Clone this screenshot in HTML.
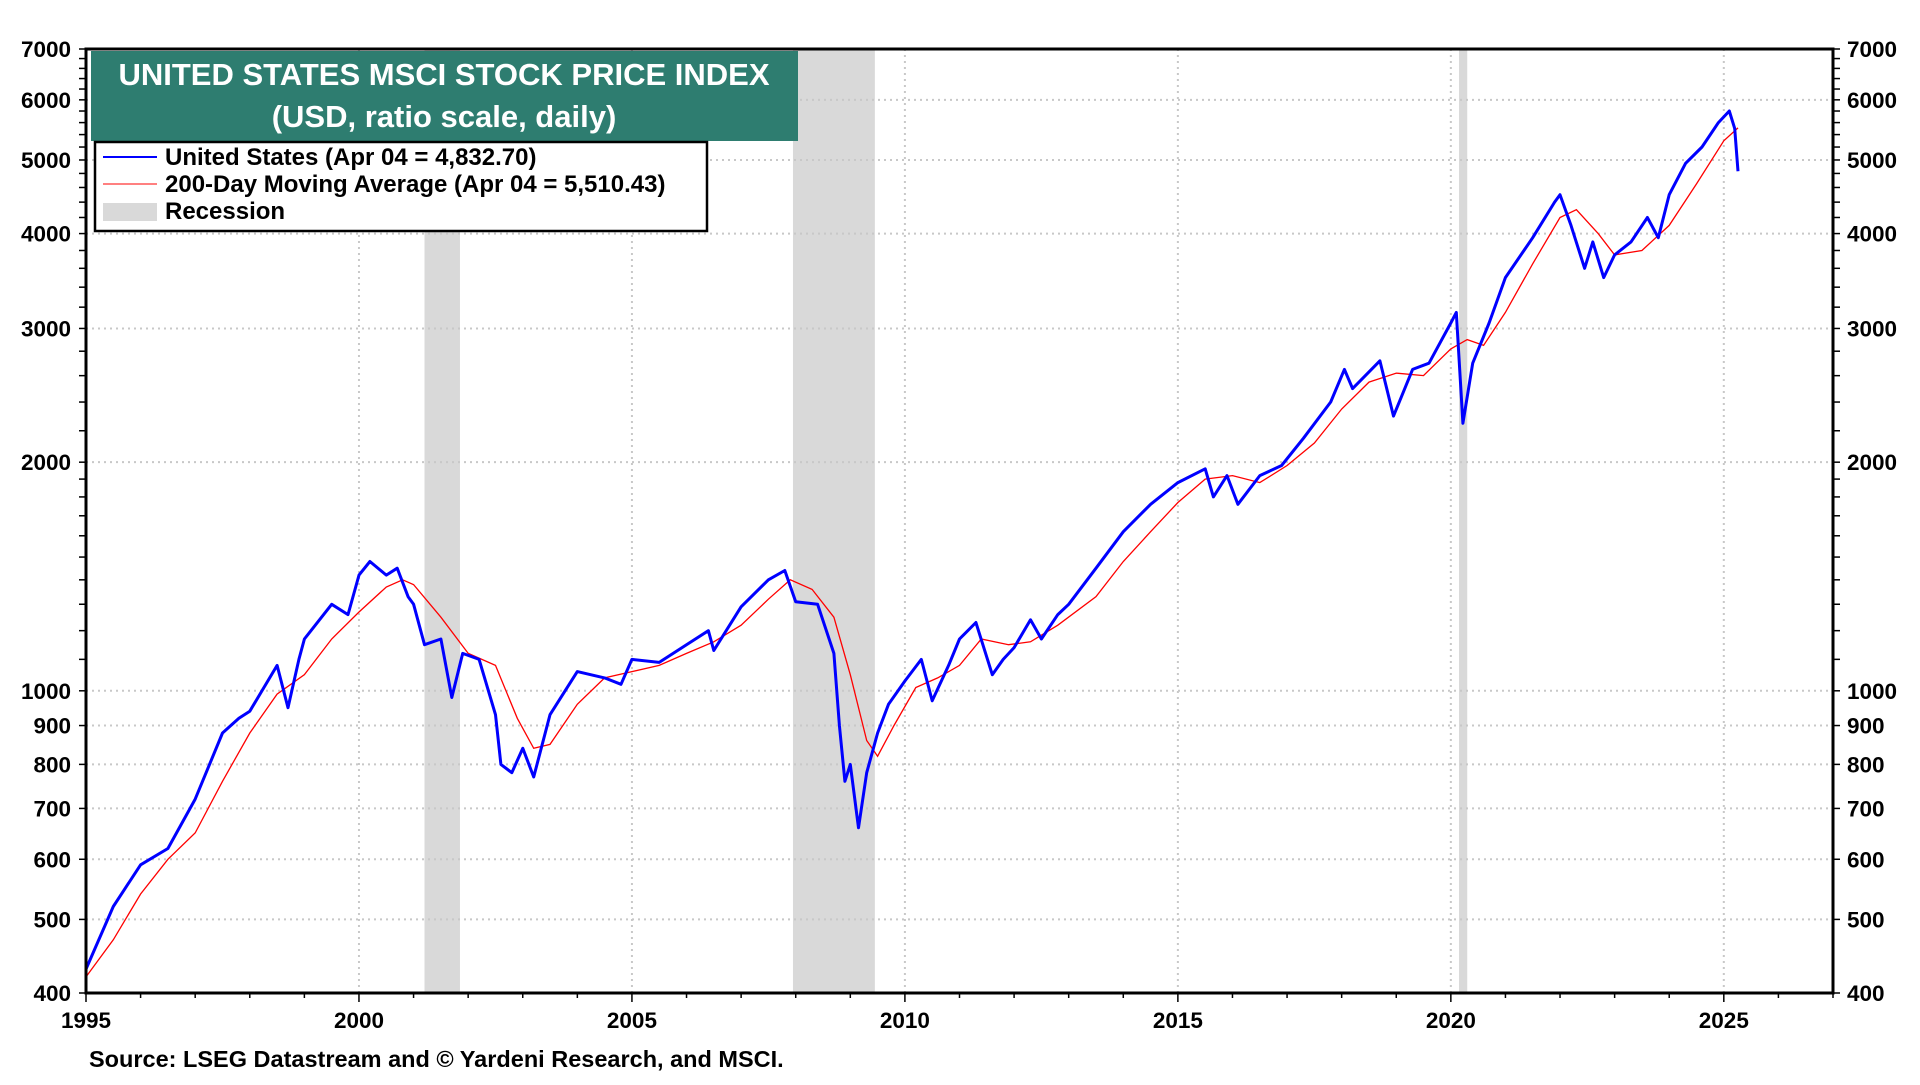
<!DOCTYPE html>
<html><head><meta charset="utf-8"><style>
html,body{margin:0;padding:0;background:#fff;}
body{width:1920px;height:1080px;overflow:hidden;font-family:"Liberation Sans",sans-serif;}
svg text{font-family:"Liberation Sans",sans-serif;font-weight:bold;}
</style></head><body>
<svg id="chart" width="1920" height="1080" xmlns="http://www.w3.org/2000/svg">
<g id="rec"></g>
<g id="grid"></g>
<g id="series"></g>
<g id="axes"></g>
<rect x="91" y="51" width="707" height="90" fill="#2e7d70"/>
<text x="444" y="85" fill="#fff" font-size="31" text-anchor="middle">UNITED STATES MSCI STOCK PRICE INDEX</text>
<text x="444" y="127" fill="#fff" font-size="31" text-anchor="middle">(USD, ratio scale, daily)</text>
<g>
<rect x="95" y="142" width="612" height="89" fill="#fff" stroke="#000" stroke-width="2.5"/>
<line x1="103" y1="157" x2="157" y2="157" stroke="#0000ff" stroke-width="2"/>
<text x="165" y="165" font-size="24">United States (Apr 04 = 4,832.70)</text>
<line x1="103" y1="184" x2="157" y2="184" stroke="#ff8080" stroke-width="2"/>
<text x="165" y="192" font-size="24">200-Day Moving Average (Apr 04 = 5,510.43)</text>
<rect x="103" y="203" width="54" height="18" fill="#d9d9d9"/>
<text x="165" y="219" font-size="24">Recession</text>
</g>
<text x="89" y="1067" font-size="23.5">Source: LSEG Datastream and © Yardeni Research, and MSCI.</text>
</svg>
<script>
const usT=[1995.0,1995.5,1996.0,1996.5,1997.0,1997.5,1997.8,1998.0,1998.5,1998.7,1998.9,1999.0,1999.5,1999.8,2000.0,2000.2,2000.5,2000.7,2000.9,2001.0,2001.2,2001.5,2001.7,2001.9,2002.2,2002.5,2002.6,2002.8,2003.0,2003.2,2003.5,2004.0,2004.5,2004.8,2005.0,2005.5,2006.0,2006.4,2006.5,2007.0,2007.5,2007.8,2008.0,2008.4,2008.7,2008.8,2008.9,2009.0,2009.15,2009.3,2009.5,2009.7,2010.0,2010.3,2010.5,2010.8,2011.0,2011.3,2011.6,2011.8,2012.0,2012.3,2012.5,2012.8,2013.0,2013.5,2014.0,2014.5,2015.0,2015.5,2015.65,2015.9,2016.1,2016.5,2016.9,2017.3,2017.8,2018.05,2018.2,2018.7,2018.95,2019.3,2019.6,2020.0,2020.1,2020.22,2020.4,2020.7,2021.0,2021.5,2021.9,2022.0,2022.2,2022.45,2022.6,2022.8,2023.0,2023.3,2023.6,2023.8,2024.0,2024.3,2024.6,2024.9,2025.1,2025.2,2025.26];
const usV=[430,520,590,620,720,880,920,940,1080,950,1100,1170,1300,1260,1420,1480,1420,1450,1330,1300,1150,1170,980,1120,1100,930,800,780,840,770,930,1060,1040,1020,1100,1090,1150,1200,1130,1290,1400,1440,1310,1300,1120,900,760,800,660,780,880,960,1030,1100,970,1080,1170,1230,1050,1100,1140,1240,1170,1260,1300,1450,1620,1760,1880,1960,1800,1920,1760,1920,1980,2150,2400,2650,2500,2720,2300,2650,2700,3050,3150,2250,2700,3050,3500,3950,4400,4500,4100,3600,3900,3500,3750,3900,4200,3950,4500,4950,5200,5600,5800,5500,4833];
const maT=[1995.0,1995.5,1996.0,1996.5,1997.0,1997.5,1998.0,1998.5,1999.0,1999.5,2000.0,2000.5,2000.8,2001.0,2001.5,2002.0,2002.5,2002.9,2003.2,2003.5,2004.0,2004.5,2005.0,2005.5,2006.0,2006.5,2007.0,2007.5,2007.9,2008.3,2008.7,2009.0,2009.3,2009.5,2009.8,2010.2,2010.6,2011.0,2011.4,2011.9,2012.3,2012.8,2013.5,2014.0,2014.5,2015.0,2015.5,2016.0,2016.5,2017.0,2017.5,2018.0,2018.5,2019.0,2019.5,2020.0,2020.3,2020.6,2021.0,2021.5,2022.0,2022.3,2022.7,2023.0,2023.5,2024.0,2024.5,2025.0,2025.26];
const maV=[420,470,540,600,650,760,880,990,1050,1170,1270,1370,1400,1380,1250,1120,1080,920,840,850,960,1040,1060,1080,1120,1160,1220,1320,1400,1360,1250,1050,860,820,900,1010,1040,1080,1170,1150,1160,1220,1330,1480,1620,1770,1900,1920,1880,1980,2120,2350,2550,2620,2600,2820,2900,2850,3150,3650,4200,4300,4000,3750,3800,4100,4650,5300,5510];
const recStart=[2001.2,2007.95,2020.15];
const recEnd=[2001.85,2009.45,2020.3];
const yLabels=[400,500,600,700,800,900,1000,2000,3000,4000,5000,6000,7000];
const xLabels=[1995,2000,2005,2010,2015,2020,2025];
const L=86,R=1833,T=49,B=993,X0=1995,X1=2027,Ymin=400,Ymax=7000;
const NS='http://www.w3.org/2000/svg';
const xs=t=>L+(t-X0)/(X1-X0)*(R-L);
const ys=v=>B-Math.log(v/Ymin)/Math.log(Ymax/Ymin)*(B-T);
function mk(tag,attrs,parent){const e=document.createElementNS(NS,tag);for(const k in attrs)e.setAttribute(k,attrs[k]);document.getElementById(parent).appendChild(e);return e;}
recStart.forEach((s,i)=>{const r=mk('rect',{x:xs(s),y:T,width:xs(recEnd[i])-xs(s),height:B-T,fill:'#d9d9d9'},'rec');

});
yLabels.forEach(v=>{const l=mk('line',{x1:L,x2:R,y1:ys(v),y2:ys(v),stroke:'#c8c8c8','stroke-width':2,'stroke-dasharray':'2,4'},'grid');


const a=mk('text',{x:L-15,y:ys(v)+8,'font-size':22.5,'text-anchor':'end'},'axes');a.textContent=v;


const b=mk('text',{x:R+14,y:ys(v)+8,'font-size':22.5},'axes');b.textContent=v;

});
for(let v=400;v<=7000;v+=(v<2000?100:200)){[[L,L-7],[R,R+7]].forEach(p=>{const m=mk('line',{x1:p[0],x2:p[1],y1:ys(v),y2:ys(v),stroke:'#000','stroke-width':1.5},'axes');

});}
xLabels.forEach(t=>{const l=mk('line',{x1:xs(t),x2:xs(t),y1:T,y2:B,stroke:'#c8c8c8','stroke-width':2,'stroke-dasharray':'2,4'},'grid');


const a=mk('text',{x:xs(t),y:B+35,'font-size':22.5,'text-anchor':'middle'},'axes');a.textContent=t;

});
for(let t=1995;t<=2027;t++){const m=mk('line',{x1:xs(t),x2:xs(t),y1:B,y2:B+(t%5==0?9:5),stroke:'#000','stroke-width':1.5},'axes');

}
const ma=mk('path',{d:maT.map((t,i)=>(i?'L':'M')+xs(t).toFixed(1)+','+ys(maV[i]).toFixed(1)).join(''),fill:'none',stroke:'#ff0000','stroke-width':1.3},'series');


const us=mk('path',{d:usT.map((t,i)=>(i?'L':'M')+xs(t).toFixed(1)+','+ys(usV[i]).toFixed(1)).join(''),fill:'none',stroke:'#0000ff','stroke-width':3,'stroke-linejoin':'round'},'series');


const fr=mk('rect',{x:L,y:T,width:R-L,height:B-T,fill:'none',stroke:'#000','stroke-width':3},'axes');


</script>
</body></html>
